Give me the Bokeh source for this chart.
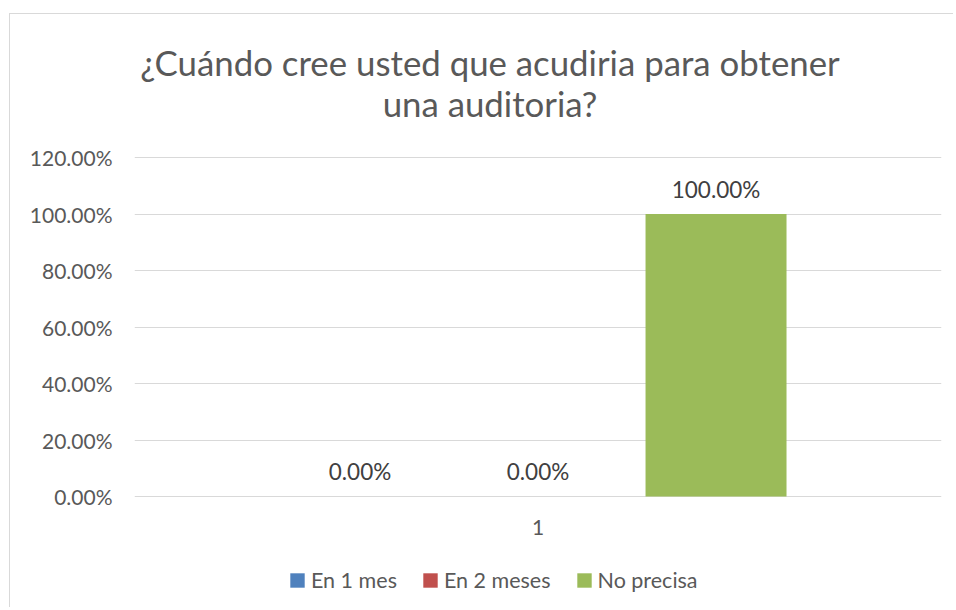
from bokeh.plotting import figure
from bokeh.models import ColumnDataSource, NumeralTickFormatter, Legend, LegendItem, Range1d, FactorRange
from bokeh.transform import dodge
from bokeh.core.properties import value
from bokeh.embed import file_html
from bokeh.resources import INLINE

title_lines = ["¿Cuándo cree usted que acudiria para obtener", "una auditoria?"]
categories = ["1"]
series_names = ["En 1 mes", "En 2 meses", "No precisa"]
series_values = [0.0, 0.0, 1.0]
series_colors = ["#4F81BD", "#C0504D", "#9BBB59"]
y_ticks = [0.0, 0.2, 0.4, 0.6, 0.8, 1.0, 1.2]

FONT = "Lato"
TXT = "#595959"

W, H = 944, 594
LEFT, RIGHT = 124, 13
ZERO_Y, TOP_Y = 482, 143          # pixel rows (from figure top) of 0% and 120%
ppu = (ZERO_Y - TOP_Y) / 1.2
y_lo = -(H - ZERO_Y) / ppu
y_hi = 1.2 + TOP_Y / ppu

p = figure(width=W, height=H, x_range=FactorRange(*categories, range_padding=0),
           y_range=Range1d(y_lo, y_hi), output_backend="svg", toolbar_location=None,
           min_border_left=LEFT, min_border_right=RIGHT, min_border_top=0, min_border_bottom=0,
           title=None)
p.styles = {"border-left": "1px solid #D9D9D9", "border-top": "1px solid #D9D9D9",
            "margin-left": "9px", "margin-top": "13px"}
p.outline_line_color = None
p.background_fill_color = "white"

# title (two centred lines)
for line, dy in zip(title_lines, [-95, -54]):
    tsrc = ColumnDataSource(dict(x=categories[:1], y=[y_ticks[-1]], t=[line]))
    p.text(x="x", y="y", text="t", source=tsrc, text_font=value(FONT), text_font_size="34.8px",
           text_color=TXT, text_align="center", text_baseline="middle",
           x_offset=-48, y_offset=dy)

offsets = [-0.2206, 0.0, 0.2206]
items = []
for name, val, col, off in zip(series_names, series_values, series_colors, offsets):
    src = ColumnDataSource(dict(x=categories, top=[val], lbl=[f"{val*100:.2f}%"]))
    r = p.vbar(x=dodge("x", off, range=p.x_range), top="top", bottom=0, width=0.1747, source=src,
               fill_color=col, line_color=None)
    p.text(x=dodge("x", off, range=p.x_range), y="top", text="lbl", source=src,
           text_font=value(FONT), text_font_size="22.5px", text_color="#404040",
           text_align="center", text_baseline="middle", y_offset=-25)
    items.append(LegendItem(label=name, renderers=[r]))

# category label under the baseline
csrc = ColumnDataSource(dict(x=categories, y=[0] * len(categories)))
p.text(x="x", y="y", text="x", source=csrc, text_font=value(FONT), text_font_size="21px",
       text_color=TXT, text_align="center", text_baseline="middle", y_offset=31)

p.yaxis.ticker = y_ticks
p.yaxis.formatter = NumeralTickFormatter(format="0.00%")
p.yaxis.axis_line_color = None
p.yaxis.major_tick_line_color = None
p.yaxis.minor_tick_line_color = None
p.yaxis.major_tick_out = 0
p.yaxis.major_label_text_font = FONT
p.yaxis.major_label_text_font_size = "21px"
p.yaxis.major_label_text_color = TXT
p.yaxis.major_label_standoff = 22

p.xaxis.visible = False
p.xgrid.grid_line_color = None
p.ygrid.grid_line_color = "#D9D9D9"
p.ygrid.grid_line_width = 1

legend = Legend(items=items, orientation="horizontal", location=(154, 15),
                glyph_width=18, glyph_height=18, label_text_font=FONT,
                label_text_font_size="21.5px", label_text_color=TXT,
                spacing=24, label_standoff=5, padding=0, margin=0,
                border_line_color=None, background_fill_alpha=0)
p.add_layout(legend, "center")

open("out.html", "w").write(file_html(p, INLINE))
